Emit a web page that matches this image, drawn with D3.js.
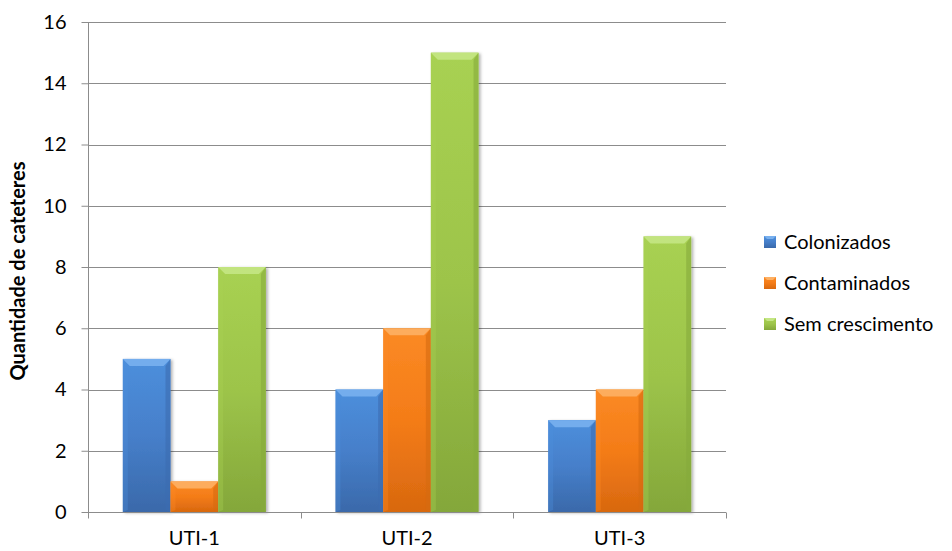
<!DOCTYPE html>
<html>
<head>
<meta charset="utf-8">
<script src="https://cdn.jsdelivr.net/npm/d3@7"></script>
<style>
  html, body { margin: 0; padding: 0; background: #fff; }
  svg text { font-family: Lato, "Open Sans", sans-serif; fill: #000; }
</style>
</head>
<body>
<div id="chart"></div>
<script>
// Grouped bar chart, Excel-style bevel bars

const categories = ['UTI-1', 'UTI-2', 'UTI-3'];
const seriesNames = ['Colonizados', 'Contaminados', 'Sem crescimento'];
const colonizados = [5, 4, 3];
const contaminados = [1, 6, 4];
const semCrescimento = [8, 15, 9];
const yTicks = [0, 2, 4, 6, 8, 10, 12, 14, 16];
const yTitle = 'Quantidade de cateteres';

const seriesValues = [colonizados, contaminados, semCrescimento];

const W = 952, H = 551;
const plot = {left: 88, right: 726, top: 22, bottom: 512};

const svg = d3.select('#chart').append('svg')
	.attr('width', W)
	.attr('height', H);

// colours per series: light (top), mid, dark (bottom)
const palette = [
	{top: '#4d8fdc', mid: '#467fca', bot: '#3a69aa', bevel: '#79b0ee', side: '#3c6db0'},
	{top: '#fb8a24', mid: '#f47c18', bot: '#d8680f', bevel: '#fdb064', side: '#d66a10'},
	{top: '#a8d152', mid: '#9dc44a', bot: '#84a73a', bevel: '#c4e584', side: '#86aa3c'}
];

const defs = svg.append('defs');
palette.forEach((p, i) => {
	const g = defs.append('linearGradient')
		.attr('id', 'grad' + i)
		.attr('x1', 0).attr('y1', 0).attr('x2', 0).attr('y2', 1);
	g.append('stop').attr('offset', '0%').attr('stop-color', p.top);
	g.append('stop').attr('offset', '50%').attr('stop-color', p.mid);
	g.append('stop').attr('offset', '100%').attr('stop-color', p.bot);
});
const shadow = defs.append('filter').attr('id', 'shadow')
	.attr('x', '-20%').attr('y', '-5%').attr('width', '140%').attr('height', '110%');
shadow.append('feDropShadow')
	.attr('dx', 2).attr('dy', 1).attr('stdDeviation', 1.5)
	.attr('flood-color', '#000').attr('flood-opacity', 0.3);

const y = d3.scaleLinear()
	.domain([0, 16])
	.range([plot.bottom, plot.top]);

const x0 = d3.scaleBand()
	.domain(categories)
	.range([plot.left, plot.right])
	.padding(0);

const x1 = d3.scaleBand()
	.domain(seriesNames)
	.range([0, x0.bandwidth()])
	.paddingInner(0)
	.paddingOuter(0.73);

// gridlines
svg.append('g')
	.selectAll('line')
	.data(yTicks.filter(d => d > 0))
	.enter()
	.append('line')
	.attr('x1', plot.left)
	.attr('x2', plot.right)
	.attr('y1', d => Math.round(y(d)) + 0.5)
	.attr('y2', d => Math.round(y(d)) + 0.5)
	.attr('stroke', '#8c8c8c')
	.attr('stroke-width', 1);

// y axis
const yAxis = svg.append('g')
	.attr('transform', `translate(${plot.left + 0.5},0)`)
	.call(d3.axisLeft(y).tickValues(yTicks).tickSize(7).tickPadding(15).tickFormat(d3.format('d')));
yAxis.selectAll('path, line').attr('stroke', '#8c8c8c');
yAxis.selectAll('text').style('font-size', '20px');
yAxis.select('.domain').attr('d', `M0,${y(16)}V${y(0)}`);

// bars
const bevel = 7;
const groups = svg.append('g')
	.selectAll('g')
	.data(categories)
	.enter()
	.append('g')
	.attr('transform', d => `translate(${x0(d)},0)`);

const bars = groups.selectAll('g')
	.data((c, ci) => seriesNames.map((s, si) => ({cat: c, key: s, si: si, value: seriesValues[si][ci]})))
	.enter()
	.append('g');

bars.append('rect')
	.attr('x', d => x1(d.key))
	.attr('y', d => y(d.value))
	.attr('width', x1.bandwidth())
	.attr('height', d => y(0) - y(d.value))
	.attr('fill', d => `url(#grad${d.si})`)
	.attr('filter', 'url(#shadow)');

// top bevel
bars.append('polygon')
	.attr('points', d => {
		const xa = x1(d.key), xb = xa + x1.bandwidth(), yt = y(d.value);
		return [[xa, yt], [xb, yt], [xb - bevel, yt + bevel], [xa + bevel, yt + bevel]].join(' ');
	})
	.attr('fill', d => palette[d.si].bevel)
	.attr('opacity', 0.9);

// left bevel
bars.append('polygon')
	.attr('points', d => {
		const xa = x1(d.key), yt = y(d.value), yb = y(0);
		return [[xa, yt], [xa + bevel - 2, yt + bevel], [xa + bevel - 2, yb - 2], [xa, yb]].join(' ');
	})
	.attr('fill', d => palette[d.si].top)
	.attr('opacity', 0.35);

// right bevel
bars.append('polygon')
	.attr('points', d => {
		const xb = x1(d.key) + x1.bandwidth(), yt = y(d.value), yb = y(0);
		return [[xb, yt], [xb - bevel + 2, yt + bevel], [xb - bevel + 2, yb - 2], [xb, yb]].join(' ');
	})
	.attr('fill', d => palette[d.si].side)
	.attr('opacity', 0.6);

// x axis
const xAxis = svg.append('g')
	.attr('transform', `translate(0,${Math.round(plot.bottom) + 0.5})`);
xAxis.append('line')
	.attr('x1', plot.left).attr('x2', plot.right)
	.attr('stroke', '#8c8c8c');
xAxis.selectAll('.tick')
	.data(categories.map(c => x0(c)).concat([plot.right]))
	.enter()
	.append('line')
	.attr('x1', d => Math.round(d) + 0.5)
	.attr('x2', d => Math.round(d) + 0.5)
	.attr('y1', 0).attr('y2', 6)
	.attr('stroke', '#8c8c8c');
xAxis.selectAll('text')
	.data(categories)
	.enter()
	.append('text')
	.attr('x', d => x0(d) + x0.bandwidth() / 2)
	.attr('y', 32)
	.attr('text-anchor', 'middle')
	.style('font-size', '20px')
	.text(d => d);

// y title
svg.append('text')
	.attr('transform', `translate(25,${(plot.top + plot.bottom) / 2 + 4}) rotate(-90)`)
	.attr('text-anchor', 'middle')
	.style('font-size', '20px')
	.style('font-weight', 'bold')
	.text(yTitle);

// legend
const legend = svg.append('g')
	.attr('transform', 'translate(764,242)');
const item = legend.selectAll('g')
	.data(seriesNames)
	.enter()
	.append('g')
	.attr('transform', (d, i) => `translate(0,${i * 41})`);
item.append('rect')
	.attr('x', 0).attr('y', -6)
	.attr('width', 12).attr('height', 12)
	.attr('fill', (d, i) => `url(#grad${i})`);
item.append('polygon')
	.attr('points', '0,-6 12,-6 9,-3 3,-3')
	.attr('fill', (d, i) => palette[i].bevel);
item.append('text')
	.attr('x', 20)
	.attr('y', 7)
	.style('font-size', '20px')
	.text(d => d);
</script>
</body>
</html>
